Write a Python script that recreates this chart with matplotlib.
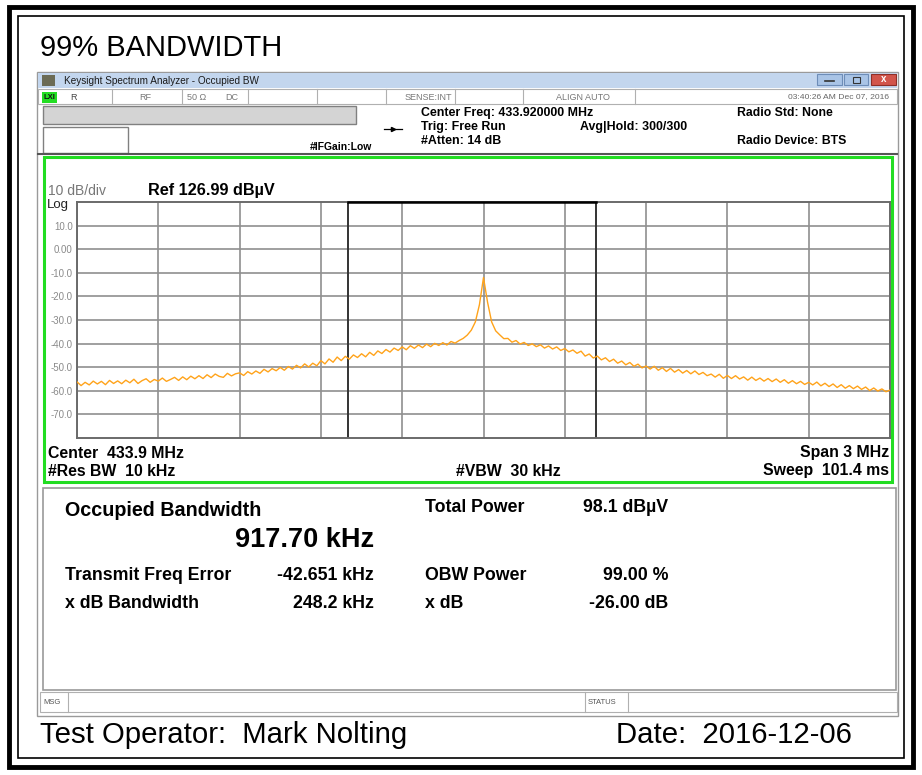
import numpy as np
import matplotlib
matplotlib.use('Agg')
import matplotlib.pyplot as plt
from matplotlib.patches import Rectangle

plt.rcParams['font.family'] = ['Liberation Sans', 'DejaVu Sans']

# --- data ---
center_mhz = 433.92
span_mhz = 3.0
obw_khz = 917.70
freq_err_khz = -42.651

# trace level (dB) over 201 sweep points, left to right
levels = [
    -56.2, -57.8, -56.4, -57.5, -55.9, -57.1, -56.0, -57.4, -55.6, -56.9,
    -55.8, -57.0, -55.5, -56.6, -55.1, -56.9, -55.7, -54.9, -56.4, -55.2,
    -55.9, -54.6, -56.0, -55.2, -54.3, -55.6, -54.1, -55.3, -53.8, -54.9,
    -53.6, -54.8, -53.2, -54.4, -52.9, -53.9, -54.3, -52.6, -53.7, -52.8,
    -52.4, -53.5, -51.9, -52.9, -51.6, -52.6, -50.9, -52.0, -50.6, -51.5,
    -50.1, -51.3, -49.7, -50.8, -49.2, -50.3, -48.6, -49.9, -48.3, -49.4,
    -47.2, -48.6, -46.5, -47.9, -45.7, -47.2, -45.4, -46.6, -44.8, -45.9,
    -44.3, -45.6, -43.7, -45.0, -43.1, -44.2, -42.5, -43.6, -41.9, -42.9,
    -41.4, -42.6, -40.9, -42.0, -40.6, -41.7, -40.2, -41.3, -39.9, -40.8,
    -39.6, -40.6, -39.1, -39.8, -38.7, -37.8, -36.4, -34.3, -30.8, -23.5,
    -12.0,
    -22.5, -30.8, -34.6, -36.3, -37.9, -37.8, -39.4, -38.7, -40.2, -39.5,
    -40.8, -40.1, -41.3, -40.5, -41.9, -41.0, -42.3, -41.4, -42.9, -42.1,
    -43.5, -42.7, -44.1, -43.2, -45.3, -44.4, -46.1, -45.3, -46.9, -46.0,
    -47.6, -46.6, -48.3, -47.4, -49.0, -48.0, -49.6, -48.7, -50.3, -49.5,
    -50.8, -49.6, -51.3, -50.2, -51.8, -50.5, -52.1, -51.0, -52.5, -51.4,
    -52.8, -51.6, -53.1, -52.2, -53.6, -52.9, -54.2, -53.0, -54.7, -53.5,
    -54.8, -53.6, -55.0, -54.1, -55.5, -54.2, -55.6, -54.6, -55.9, -54.8,
    -56.1, -55.0, -56.4, -55.3, -56.8, -55.7, -57.0, -56.0, -57.3, -56.4,
    -57.5, -56.3, -57.9, -56.8, -58.2, -57.1, -58.6, -57.4, -58.9, -57.8,
    -59.1, -58.0, -59.4, -58.4, -59.9, -58.8, -60.1, -59.2, -60.4, -59.7,
]
ytick_vals = [-70, -60, -50, -40, -30, -20, -10, 0, 10]
ytick_labels = ['-70.0', '-60.0', '-50.0', '-40.0', '-30.0', '-20.0', '-10.0', '0.00', '10.0']

freqs = center_mhz + np.linspace(-span_mhz / 2, span_mhz / 2, len(levels))
obw_left = center_mhz + freq_err_khz / 1000 - obw_khz / 2000
obw_right = center_mhz + freq_err_khz / 1000 + obw_khz / 2000

W, H = 922, 775
fig = plt.figure(figsize=(W / 100, H / 100), dpi=100)

# background layer in pixel coordinates
bg = fig.add_axes([0, 0, 1, 1])
bg.set_xlim(0, W)
bg.set_ylim(H, 0)
bg.axis('off')


def box(x0, y0, x1, y1, fc='none', ec='black', lw=1.0, z=1):
    bg.add_patch(Rectangle((x0, y0), x1 - x0, y1 - y0, facecolor=fc, edgecolor=ec, linewidth=lw, zorder=z))


def txt(x, y, s, size=8, bold=False, color='black', ha='left', va='center'):
    bg.text(x, y, s, fontsize=size, fontweight='bold' if bold else 'normal', color=color,
            ha=ha, va=va, zorder=5)


# outer frame
box(9, 7, 913, 767, ec='black', lw=3.5)
box(18, 16, 904, 758, ec='black', lw=1.2)
txt(40, 48, '99% BANDWIDTH', size=21)

# analyzer window
box(37, 72, 898, 716, fc='white', ec='#9a9a9a', lw=1.0)
box(38, 73, 897, 88, fc='#c3d6ee', ec='none')
box(42, 75, 55, 86, fc='#6b6b55', ec='none', z=2)
txt(64, 81, 'Keysight Spectrum Analyzer - Occupied BW', size=7.2, color='#1a1a1a')
box(817, 74, 842, 85, fc='#a9c4e6', ec='#6d8db8', lw=0.8, z=2)
box(844, 74, 868, 85, fc='#a9c4e6', ec='#6d8db8', lw=0.8, z=2)
box(871, 74, 896, 85, fc='#d2554b', ec='#8e2f28', lw=0.8, z=2)
bg.plot([825, 834], [81, 81], color='#333333', lw=1.2, zorder=3)
box(853, 77, 860, 83, ec='#333333', lw=0.8, z=3)
txt(883.5, 79.5, 'x', size=7, bold=True, color='white', ha='center')

# status row
box(38, 89, 897, 104, fc='white', ec='#b0b0b0', lw=0.8)
box(42, 92, 57, 103, fc='#22dd22', ec='none', z=2)
txt(49.5, 97.5, 'LXI', size=5.5, bold=True, ha='center', color='#111111')
for sx in [112, 182, 248, 317, 386, 455, 523, 635]:
    bg.plot([sx, sx], [89, 104], color='#b0b0b0', lw=0.8, zorder=2)
txt(70, 97, 'R', size=6.5, color='#444444')
txt(145, 97, 'RF', size=6.5, color='#777777', ha='center')
txt(187, 97, '50 Ω', size=6.5, color='#777777')
txt(225, 97, 'DC', size=6.5, color='#777777')
txt(428, 97, 'SENSE:INT', size=6.5, color='#777777', ha='center')
txt(583, 97, 'ALIGN AUTO', size=6.5, color='#777777', ha='center')
txt(889, 97, '03:40:26 AM Dec 07, 2016', size=6.1, color='#666666', ha='right')

# header
box(43, 106, 356, 124, fc='#d4d4d4', ec='#808080', lw=1.0)
box(43, 127, 128, 153, fc='white', ec='#808080', lw=1.0)
bg.plot([384, 402], [129, 129], color='black', lw=0.9, zorder=3)
bg.plot([393], [129], marker='>', color='black', ms=3, zorder=3)
txt(310, 147, '#IFGain:Low', size=7.5, bold=True)
txt(421, 113, 'Center Freq: 433.920000 MHz', size=8.9, bold=True)
txt(421, 127, 'Trig: Free Run', size=8.9, bold=True)
txt(421, 141, '#Atten: 14 dB', size=8.9, bold=True)
txt(580, 127, 'Avg|Hold: 300/300', size=8.9, bold=True)
txt(737, 113, 'Radio Std: None', size=8.8, bold=True)
txt(737, 141, 'Radio Device: BTS', size=8.8, bold=True)
bg.plot([38, 897], [153.5, 153.5], color='#555555', lw=1.5, zorder=2)

# green trace window
box(44, 157, 892, 482, ec='#22dd22', lw=2.2, z=3)
txt(48, 191, '10 dB/div', size=10, color='#777777')
txt(148, 191, 'Ref 126.99 dBµV', size=11.7, bold=True)
txt(47, 205, 'Log', size=9.5, color='#222222')
txt(48, 453, 'Center  433.9 MHz', size=11.4, bold=True)
txt(48, 471, '#Res BW  10 kHz', size=11.4, bold=True)
txt(456, 471, '#VBW  30 kHz', size=11.4, bold=True)
txt(889, 453, 'Span 3 MHz', size=11.4, bold=True, ha='right')
txt(889, 471, 'Sweep  101.4 ms', size=11.4, bold=True, ha='right')

# results panel
box(43, 488, 896, 690, ec='#9a9a9a', lw=1.2)
txt(65, 510, 'Occupied Bandwidth', size=14.2, bold=True)
txt(374, 540, '%.2f kHz' % obw_khz, size=19.5, bold=True, ha='right')
txt(65, 575, 'Transmit Freq Error', size=12.8, bold=True)
txt(374, 575, '%.3f kHz' % freq_err_khz, size=12.8, bold=True, ha='right')
txt(65, 603, 'x dB Bandwidth', size=12.8, bold=True)
txt(374, 603, '248.2 kHz', size=12.8, bold=True, ha='right')
txt(425, 507, 'Total Power', size=12.8, bold=True)
txt(668, 507, '98.1 dBµV', size=12.8, bold=True, ha='right')
txt(425, 575, 'OBW Power', size=12.8, bold=True)
txt(668, 575, '99.00 %', size=12.8, bold=True, ha='right')
txt(425, 603, 'x dB', size=12.8, bold=True)
txt(668, 603, '-26.00 dB', size=12.8, bold=True, ha='right')

# message bar
box(40, 692, 897, 712, fc='white', ec='#b0b0b0', lw=0.8)
for sx in [68, 585, 628]:
    bg.plot([sx, sx], [692, 712], color='#b0b0b0', lw=0.8, zorder=2)
txt(43, 702, 'MSG', size=5.5, color='#555555')
txt(588, 702, 'STATUS', size=5.5, color='#555555')

# footer
txt(40, 735, 'Test Operator:  Mark Nolting', size=21.2)
txt(616, 735, 'Date:  2016-12-06', size=21.2)

# spectrum plot
ax = fig.add_axes([77 / W, 1 - 438 / H, 813 / W, 236 / H])
ax.set_xlim(center_mhz - span_mhz / 2, center_mhz + span_mhz / 2)
ax.set_ylim(-80, 20)
ax.set_xticks(center_mhz + np.linspace(-span_mhz / 2, span_mhz / 2, 11))
ax.set_xticklabels([])
ax.set_yticks(ytick_vals)
ax.set_yticklabels(ytick_labels, fontsize=7, color='#8a8a8a')
ax.tick_params(length=0, pad=3)
ax.grid(True, color='#8f8f8f', lw=1.2)
ax.set_axisbelow(True)
for sp in ax.spines.values():
    sp.set_color('#6a6a6a')
    sp.set_linewidth(1.4)
ax.plot(freqs, levels, color='#ffa31a', lw=1.0, zorder=3)
ax.axvline(obw_left, color='#333333', lw=1.4, zorder=2)
ax.axvline(obw_right, color='#333333', lw=1.4, zorder=2)
ax.plot([obw_left, obw_right], [20, 20], color='black', lw=1.8, zorder=4, clip_on=False)

fig.savefig('out.png', dpi=100)
